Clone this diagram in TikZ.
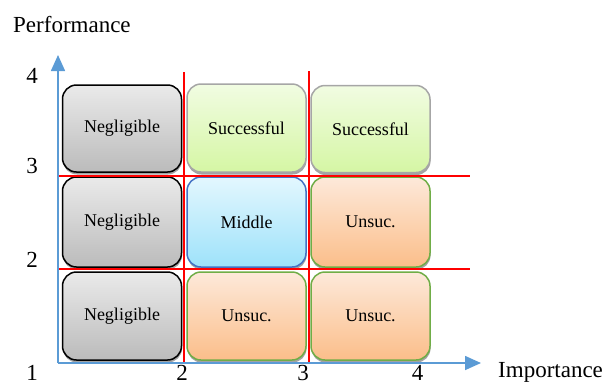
\documentclass[tikz,border=0pt]{standalone}
\usepackage{fontspec}
\setmainfont{Liberation Serif}
\usetikzlibrary{arrows.meta,shadows}
\definecolor{axisblue}{HTML}{5B9BD5}
\definecolor{neglTop}{HTML}{EAEAEA}
\definecolor{neglBot}{HTML}{BBBBBB}
\definecolor{succTop}{HTML}{F1FCE2}
\definecolor{succBot}{HTML}{D5F6A4}
\definecolor{succLine}{HTML}{A6A6A6}
\definecolor{midTop}{HTML}{E3F7FE}
\definecolor{midBot}{HTML}{9EE2FA}
\definecolor{midLine}{HTML}{4472C4}
\definecolor{unsTop}{HTML}{FDE9DA}
\definecolor{unsBot}{HTML}{FBBE8A}
\definecolor{unsLine}{HTML}{70AD47}
\tikzset{
  cell/.style={rectangle, rounded corners=14pt, line width=1.5pt,
    minimum width=119pt, minimum height=88pt, inner sep=0pt,
    font=\fontsize{18}{21}\selectfont,
    drop shadow={shadow xshift=0.5pt, shadow yshift=-2.5pt, fill=black!45, opacity=0.8}},
  negl/.style={cell, draw=black, top color=neglTop, bottom color=neglBot},
  succ/.style={cell, draw=succLine, top color=succTop, bottom color=succBot},
  midc/.style={cell, draw=midLine, top color=midTop, bottom color=midBot},
  unsc/.style={cell, draw=unsLine, top color=unsTop, bottom color=unsBot},
  grid/.style={red, line width=1.1pt},
  axis/.style={axisblue, line width=1.6pt, -{Triangle[length=16pt,width=14pt]}},
  big/.style={font=\fontsize{23}{27}\selectfont, inner sep=0pt}
}
\begin{document}
\begin{tikzpicture}[x=1pt,y=-1pt]
\useasboundingbox (0,0) rectangle (605,384);
% cells
\node[negl, minimum height=87pt] (n1) at (122,128.5) {Negligible};
\node[succ, minimum height=88pt] (s1) at (246.5,128) {Successful};
\node[succ, minimum height=87pt] (s2) at (370.5,129) {Successful};
\node[negl, minimum height=90pt] (n2) at (122,222) {Negligible};
\node[midc, minimum height=90pt] (m1) at (246.5,222) {Middle};
\node[unsc, minimum height=90pt] (u1) at (370.5,222) {Unsuc.};
\node[negl] (n3) at (122,316) {Negligible};
\node[unsc] (u2) at (246.5,316) {Unsuc.};
\node[unsc] (u3) at (370.5,316) {Unsuc.};
% grid coordinates
\coordinate (o) at (58,363);
\coordinate (v1t) at (184,72);
\coordinate (v1b) at (184,363);
\coordinate (v2t) at (309,71);
\coordinate (v2b) at (309,363);
\coordinate (h1l) at (58,176);
\coordinate (h1r) at (470,176);
\coordinate (h2l) at (58,269);
\coordinate (h2r) at (470,269);
\coordinate (ytip) at (58,55);
\coordinate (xtip) at (481,363);
\draw[grid] (v1t) -- (v1b);
\draw[grid] (v2t) -- (v2b);
\draw[grid] (h1l) -- (h1r);
\draw[grid] (h2l) -- (h2r);
% axes
\draw[axis] (o) -- (ytip);
\draw[axis] (o) -- (xtip);
% labels
\node[big, anchor=base west] (perf) at (13,32) {Performance};
\node[big, anchor=base west] (imp) at (498,377.5) {Importance};
\node[big, anchor=base] (y4) at (32,83) {4};
\node[big, anchor=base] (y3) at (32,173) {3};
\node[big, anchor=base] (y2) at (32,267) {2};
\node[big, anchor=base] (y1) at (32,380) {1};
\node[big, anchor=base] (x2) at (182,380.5) {2};
\node[big, anchor=base] (x3) at (303,380.5) {3};
\node[big, anchor=base] (x4) at (417.5,380.5) {4};
\end{tikzpicture}
\end{document}
